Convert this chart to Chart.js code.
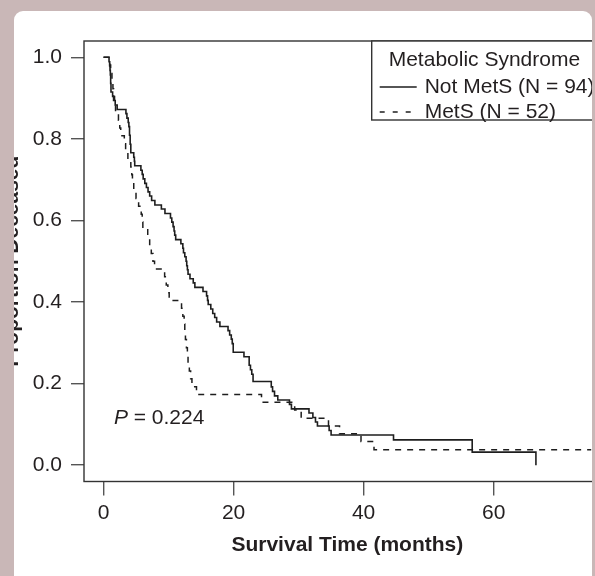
<!DOCTYPE html>
<html>
<head>
<meta charset="utf-8">
<script src="https://cdn.jsdelivr.net/npm/chart.js@4.4.1/dist/chart.umd.min.js"></script>
<style>
  html, body { margin: 0; padding: 0; width: 595px; height: 576px; overflow: hidden; background: #c9b7b7; }
  #card { position: absolute; left: 14px; top: 11px; width: 578px; height: 600px; background: #fff; border-radius: 9px; overflow: hidden; }
  #wrap { position: absolute; left: -14px; top: -11px; width: 640px; height: 576px; }
</style>
</head>
<body>
<div id="card"><div id="wrap"><canvas id="km" width="640" height="576"></canvas></div></div>
<script>
// Kaplan-Meier steps (time in months, survival after the drop)
const notMetSTimes = [0, 0.85, 0.95, 1.0, 1.05, 1.1, 1.15, 1.4, 1.55, 1.8, 2.1, 3.45, 3.6, 3.8, 3.9, 4.0, 4.1, 4.2, 4.65, 4.75,
  4.8, 5.75, 5.95, 6.1, 6.35, 6.6, 6.85, 7.1, 7.4, 7.9, 8.9, 9.45, 10.3, 10.5, 10.7, 10.85, 10.95, 11.1, 11.9, 12.2,
  12.3, 12.5, 12.7, 12.8, 12.9, 13.0, 13.3, 13.8, 14.05, 15.3, 15.85, 16.0, 16.1, 16.5, 16.8, 17.1, 17.4, 17.9, 19.15, 19.4,
  19.65, 19.8, 19.95, 21.6, 22.4, 22.6, 22.8, 23.0, 25.8, 26.0, 26.3, 26.8, 28.6, 28.9, 31.6, 32.2, 32.6, 32.9, 34.7, 35.0,
  44.6, 56.7, 66.5];
const notMetSSurv = [1.0, 0.989, 0.979, 0.968, 0.957, 0.936, 0.915, 0.904, 0.894, 0.883, 0.872, 0.862, 0.851, 0.84, 0.83, 0.809, 0.787, 0.766, 0.755, 0.745,
  0.734, 0.723, 0.713, 0.702, 0.691, 0.681, 0.67, 0.66, 0.649, 0.638, 0.628, 0.617, 0.606, 0.596, 0.585, 0.574, 0.564, 0.553, 0.543, 0.532,
  0.521, 0.511, 0.5, 0.489, 0.479, 0.468, 0.457, 0.447, 0.436, 0.426, 0.415, 0.404, 0.394, 0.383, 0.372, 0.362, 0.351, 0.34, 0.33, 0.319,
  0.309, 0.298, 0.277, 0.266, 0.245, 0.234, 0.223, 0.205, 0.192, 0.181, 0.17, 0.16, 0.149, 0.138, 0.128, 0.117, 0.106, 0.096, 0.085, 0.074,
  0.062, 0.032, 0.0];

const metSTimes = [0, 0.95, 1.1, 1.3, 1.45, 1.55, 1.7, 1.85, 2.3, 2.5, 2.65, 3.2, 3.4, 3.75, 4.2, 4.35, 4.45, 4.65, 5.0, 5.4,
  5.8, 5.95, 6.05, 6.8, 7.1, 7.35, 7.6, 7.85, 9.4, 9.65, 9.9, 10.1, 12.0, 12.2, 12.4, 12.5, 12.6, 12.75, 12.9, 13.0,
  13.2, 13.4, 13.6, 14.3, 24.3, 29.4, 30.4, 34.6, 36.3, 39.6, 41.6, 75];
const metSSurv = [1.0, 0.981, 0.962, 0.942, 0.923, 0.904, 0.885, 0.865, 0.846, 0.827, 0.808, 0.788, 0.769, 0.75, 0.731, 0.712, 0.692, 0.673, 0.654, 0.635,
  0.615, 0.596, 0.577, 0.558, 0.538, 0.519, 0.5, 0.481, 0.462, 0.442, 0.423, 0.404, 0.385, 0.365, 0.346, 0.327, 0.308, 0.288, 0.269, 0.25,
  0.231, 0.212, 0.192, 0.173, 0.154, 0.135, 0.115, 0.096, 0.077, 0.058, 0.038, 0.038];

const seriesLabels = ['Not MetS (N = 94)', 'MetS (N = 52)'];
const legendTitle = 'Metabolic Syndrome';
const xTicks = [0, 20, 40, 60];
const yTicks = [0, 0.2, 0.4, 0.6, 0.8, 1.0];
const yTickLabels = ['0.0', '0.2', '0.4', '0.6', '0.8', '1.0'];
const pValue = '0.224';

const FONT = "'Liberation Sans', Arial, Helvetica, sans-serif";
const TEXT = '#231f20';
const LINE = '#1e1e1e';

function toPoints(times, surv) {
    return times.map((t, i) => ({ x: t, y: surv[i] }));
}

// box round the plot, the legend box and the P value
const kmExtras = {
    id: 'kmExtras',
    afterDatasetsDraw(chart) {
        const { ctx, chartArea: ca, scales } = chart;
        ctx.save();
        ctx.strokeStyle = '#333';
        ctx.lineWidth = 1.4;
        ctx.strokeRect(ca.left, ca.top, ca.right - ca.left, ca.bottom - ca.top);

        // legend, top right corner of the plot
        const L = ca.right - 239, T = ca.top;
        ctx.fillStyle = '#fff';
        ctx.fillRect(L, T, ca.right - L, 79);
        ctx.strokeRect(L, T, ca.right - L, 79);
        ctx.fillStyle = TEXT;
        ctx.font = '21px ' + FONT;
        ctx.textBaseline = 'middle';
        ctx.textAlign = 'left';
        ctx.fillText(legendTitle, L + 17, T + 19);
        chart.data.datasets.forEach((ds, i) => {
            const y = T + 46 + i * 25;
            ctx.strokeStyle = LINE;
            ctx.lineWidth = 1.5;
            ctx.setLineDash(ds.borderDash ? [5, 8] : []);
            ctx.beginPath();
            ctx.moveTo(L + 8, y);
            ctx.lineTo(L + 45, y);
            ctx.stroke();
            ctx.setLineDash([]);
            ctx.fillText(ds.label, L + 53, y);
        });

        // P = 0.224
        const px = scales.x.getPixelForValue(1.6);
        const py = scales.y.getPixelForValue(0.115);
        ctx.font = 'italic 21px ' + FONT;
        ctx.fillText('P', px, py);
        const w = ctx.measureText('P').width;
        ctx.font = '21px ' + FONT;
        ctx.fillText(' = ' + pValue, px + w, py);
        ctx.restore();
    }
};

new Chart(document.getElementById('km'), {
    type: 'line',
    data: {
        datasets: [
            {
                label: seriesLabels[0],
                data: toPoints(notMetSTimes, notMetSSurv),
                borderColor: LINE,
                borderWidth: 1.6,
                stepped: true,
                pointRadius: 0,
                fill: false
            },
            {
                label: seriesLabels[1],
                data: toPoints(metSTimes, metSSurv),
                borderColor: LINE,
                borderWidth: 1.5,
                borderDash: [6, 6],
                stepped: true,
                pointRadius: 0,
                fill: false
            }
        ]
    },
    options: {
        responsive: false,
        animation: false,
        layout: { padding: { left: 0, top: 41, right: 29.3, bottom: 0 } },
        plugins: { legend: { display: false }, tooltip: { enabled: false } },
        scales: {
            x: {
                type: 'linear',
                min: -3,
                max: 78,
                afterBuildTicks: (s) => { s.ticks = xTicks.map(v => ({ value: v })); },
                afterFit: (s) => { s.height = 94.5; },
                ticks: { color: TEXT, font: { family: FONT, size: 21 }, padding: 5, maxRotation: 0 },
                grid: { drawOnChartArea: false, tickLength: 14, color: '#555', lineWidth: 1.4 },
                border: { display: false },
                title: {
                    display: true,
                    text: 'Survival Time (months)',
                    color: TEXT,
                    font: { family: FONT, size: 21, weight: 'bold' },
                    padding: { top: 0, bottom: 18 }
                }
            },
            y: {
                min: -0.04,
                max: 1.04,
                afterBuildTicks: (s) => { s.ticks = yTicks.map(v => ({ value: v })); },
                afterFit: (s) => { s.width = 84; },
                ticks: {
                    color: TEXT,
                    font: { family: FONT, size: 21 },
                    padding: 9,
                    callback: (v) => yTickLabels[yTicks.indexOf(v)]
                },
                grid: { drawOnChartArea: false, tickLength: 13, color: '#555', lineWidth: 1.4 },
                border: { display: false },
                title: {
                    display: true,
                    text: 'Proportion Deceased',
                    color: TEXT,
                    font: { family: FONT, size: 21, weight: 'bold' },
                    padding: { top: 0, bottom: 0 }
                }
            }
        }
    },
    plugins: [kmExtras]
});
</script>
</body>
</html>
